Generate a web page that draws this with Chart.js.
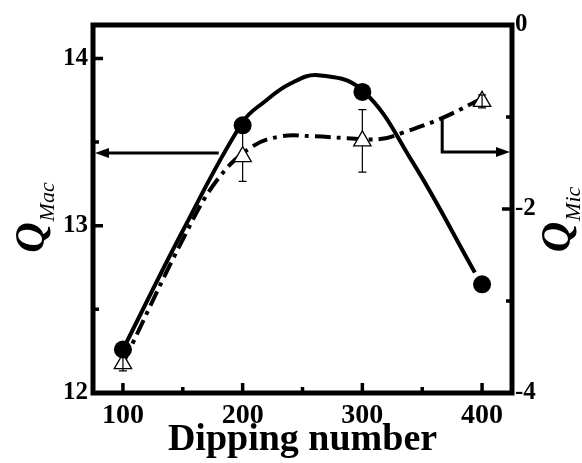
<!DOCTYPE html>
<html>
<head>
<meta charset="utf-8">
<script src="https://cdn.jsdelivr.net/npm/chart.js@4.4.1/dist/chart.umd.min.js"></script>
<style>
  body { margin: 0; background: #fff; }
</style>
</head>
<body>
<canvas id="chart" width="582" height="463"></canvas>
<script>
// valores
const dippingNumber = [100, 200, 300, 400];
const qMac = [12.26, 13.60, 13.80, 12.65];
const qMic = [-3.68, -1.43, -1.26, -0.83];
const qMicErr = [0.08, 0.27, 0.34, 0.07];

// curvas de ajuste, leidas punto a punto
const macFitX = [100, 150, 200, 218, 240, 263, 300, 342, 394];
const macFitY = [12.26, 12.97, 13.62, 13.74, 13.85, 13.90, 13.81, 13.38, 12.72];
const micFitX = [100, 152, 179, 207, 232, 259, 287, 315, 334, 367, 392, 400];
const micFitY = [-3.68, -2.28, -1.68, -1.33, -1.21, -1.21, -1.23, -1.24, -1.17, -1.01, -0.85, -0.80];

// ejes
const xTicks = [100, 200, 300, 400];
const xMinorTicks = [150, 250, 350];
const macTicks = [12, 13, 14];
const macMinorTicks = [12.5, 13.5];
const micTicks = [-4, -2, 0];
const micMinorTicks = [-3, -1];

// flechas (en unidades de datos)
const macArrow = { y: 13.435, xFrom: 180 };
const micArrow = { x: 366.7, yFrom: -1.0, yTo: -1.38 };

const serif = '"Liberation Serif", "Times New Roman", serif';

function pts(xs, ys) {
    return xs.map((x, i) => ({ x: x, y: ys[i] }));
}

function head(ctx, x, y, dir) {
    ctx.beginPath();
    ctx.moveTo(x, y);
    ctx.lineTo(x - dir * 14, y - 5);
    ctx.lineTo(x - dir * 14, y + 5);
    ctx.closePath();
    ctx.fill();
}

function drawQ(ctx, cx, cy, sub) {
    ctx.save();
    ctx.translate(cx, cy);
    ctx.rotate(-Math.PI / 2);
    ctx.fillStyle = '#000';
    ctx.textBaseline = 'alphabetic';
    ctx.font = 'italic bold 42px ' + serif;
    const wq = ctx.measureText('Q').width;
    ctx.font = 'italic 22px ' + serif;
    const ws = ctx.measureText(sub).width;
    const start = -(wq + ws) / 2;
    ctx.font = 'italic bold 42px ' + serif;
    ctx.fillText('Q', start, 0);
    ctx.font = 'italic 22px ' + serif;
    ctx.fillText(sub, start + wq + 1, 10);
    ctx.restore();
}

const framePlugin = {
    id: 'frame',
    afterDatasetsDraw(chart) {
        const { ctx, chartArea: a, scales } = chart;
        const x = scales.x, yL = scales.yL, yR = scales.yR;
        ctx.save();
        ctx.strokeStyle = '#000';
        ctx.fillStyle = '#000';

        // barras de error
        ctx.lineWidth = 1.2;
        dippingNumber.forEach((d, i) => {
            const px = x.getPixelForValue(d);
            const py = yR.getPixelForValue(qMic[i]);
            const top = yR.getPixelForValue(qMic[i] + qMicErr[i]);
            const bot = yR.getPixelForValue(qMic[i] - qMicErr[i]);
            ctx.beginPath();
            if (py - top > 11) {
                ctx.moveTo(px, top); ctx.lineTo(px, py - 10);
                ctx.moveTo(px, py + 5); ctx.lineTo(px, bot);
            } else {
                ctx.moveTo(px, top); ctx.lineTo(px, bot);
            }
            ctx.moveTo(px - 4, top); ctx.lineTo(px + 4, top);
            ctx.moveTo(px - 4, bot); ctx.lineTo(px + 4, bot);
            ctx.stroke();
        });

        // flechas
        ctx.lineWidth = 3;
        const ay = yL.getPixelForValue(macArrow.y);
        ctx.beginPath();
        ctx.moveTo(x.getPixelForValue(macArrow.xFrom), ay);
        ctx.lineTo(a.left + 10, ay);
        ctx.stroke();
        head(ctx, a.left + 2, ay, -1);

        const bx = x.getPixelForValue(micArrow.x);
        const by = yR.getPixelForValue(micArrow.yTo);
        ctx.beginPath();
        ctx.moveTo(bx, yR.getPixelForValue(micArrow.yFrom));
        ctx.lineTo(bx, by);
        ctx.lineTo(a.right - 10, by);
        ctx.stroke();
        head(ctx, a.right - 2, by, 1);

        // marcas de los ejes hacia dentro
        ctx.lineWidth = 3.5;
        ctx.beginPath();
        xTicks.forEach(v => { const p = x.getPixelForValue(v); ctx.moveTo(p, a.bottom); ctx.lineTo(p, a.bottom - 10); });
        xMinorTicks.forEach(v => { const p = x.getPixelForValue(v); ctx.moveTo(p, a.bottom); ctx.lineTo(p, a.bottom - 6); });
        macTicks.forEach(v => { const p = yL.getPixelForValue(v); ctx.moveTo(a.left, p); ctx.lineTo(a.left + 10, p); });
        macMinorTicks.forEach(v => { const p = yL.getPixelForValue(v); ctx.moveTo(a.left, p); ctx.lineTo(a.left + 6, p); });
        micTicks.forEach(v => { const p = yR.getPixelForValue(v); ctx.moveTo(a.right, p); ctx.lineTo(a.right - 10, p); });
        micMinorTicks.forEach(v => { const p = yR.getPixelForValue(v); ctx.moveTo(a.right, p); ctx.lineTo(a.right - 6, p); });
        ctx.stroke();

        // marco
        ctx.lineWidth = 5;
        ctx.strokeRect(a.left, a.top, a.right - a.left, a.bottom - a.top);
        ctx.restore();
    },
    afterDraw(chart) {
        const ctx = chart.ctx;
        drawQ(ctx, 44, 218, 'Mac');
        drawQ(ctx, 570, 220, 'Mic');
    }
};

function fixedTicks(values) {
    return s => { s.ticks = values.map(v => ({ value: v })); };
}

const ctx = document.getElementById('chart');
window.myChart = new Chart(ctx, {
    type: 'line',
    data: {
        datasets: [{
            label: 'QMac',
            data: pts(dippingNumber, qMac),
            yAxisID: 'yL',
            showLine: false,
            pointStyle: 'circle',
            pointRadius: 9,
            pointBackgroundColor: '#000',
            pointBorderColor: '#000',
            pointBorderWidth: 0,
        }, {
            label: 'QMic',
            data: pts(dippingNumber, qMic),
            yAxisID: 'yR',
            showLine: false,
            pointStyle: 'triangle',
            pointRadius: 10,
            pointBackgroundColor: '#fff',
            pointBorderColor: '#000',
            pointBorderWidth: 1.3,
        }, {
            label: 'ajuste QMac',
            data: pts(macFitX, macFitY),
            yAxisID: 'yL',
            borderColor: '#000',
            borderWidth: 4,
            pointRadius: 0,
            tension: 0.4,
            fill: false,
        }, {
            label: 'ajuste QMic',
            data: pts(micFitX, micFitY),
            yAxisID: 'yR',
            borderColor: '#000',
            borderWidth: 4,
            borderDash: [16, 6, 4, 6],
            pointRadius: 0,
            tension: 0.4,
            fill: false,
        }],
    },
    options: {
        responsive: false,
        animation: false,
        layout: { padding: { top: 25, left: 0, right: 0, bottom: 0 } },
        plugins: {
            legend: { display: false },
            tooltip: { enabled: false },
        },
        scales: {
            x: {
                type: 'linear',
                position: 'bottom',
                min: 75,
                max: 425,
                afterBuildTicks: fixedTicks(xTicks),
                afterFit: s => { s.height = 70; },
                grid: { display: false, drawTicks: false },
                border: { display: false },
                ticks: {
                    padding: 6,
                    color: '#000',
                    font: { family: serif, size: 28, weight: 'bold' },
                },
                title: {
                    display: true,
                    text: 'Dipping number',
                    color: '#000',
                    padding: { top: 0, bottom: 0 },
                    font: { family: serif, size: 38, weight: 'bold' },
                },
            },
            yL: {
                type: 'linear',
                position: 'left',
                min: 12,
                max: 14.2,
                afterBuildTicks: fixedTicks(macTicks),
                afterFit: s => { s.width = 93; },
                grid: { display: false, drawTicks: false },
                border: { display: false },
                ticks: {
                    padding: 5,
                    color: '#000',
                    font: { family: serif, size: 25, weight: 'bold' },
                },
            },
            yR: {
                type: 'linear',
                position: 'right',
                min: -4,
                max: 0,
                afterBuildTicks: fixedTicks(micTicks),
                afterFit: s => { s.width = 70; },
                grid: { display: false, drawTicks: false },
                border: { display: false },
                ticks: {
                    padding: 3,
                    color: '#000',
                    font: { family: serif, size: 25, weight: 'bold' },
                },
            },
        },
    },
    plugins: [framePlugin],
});
</script>
</body>
</html>
